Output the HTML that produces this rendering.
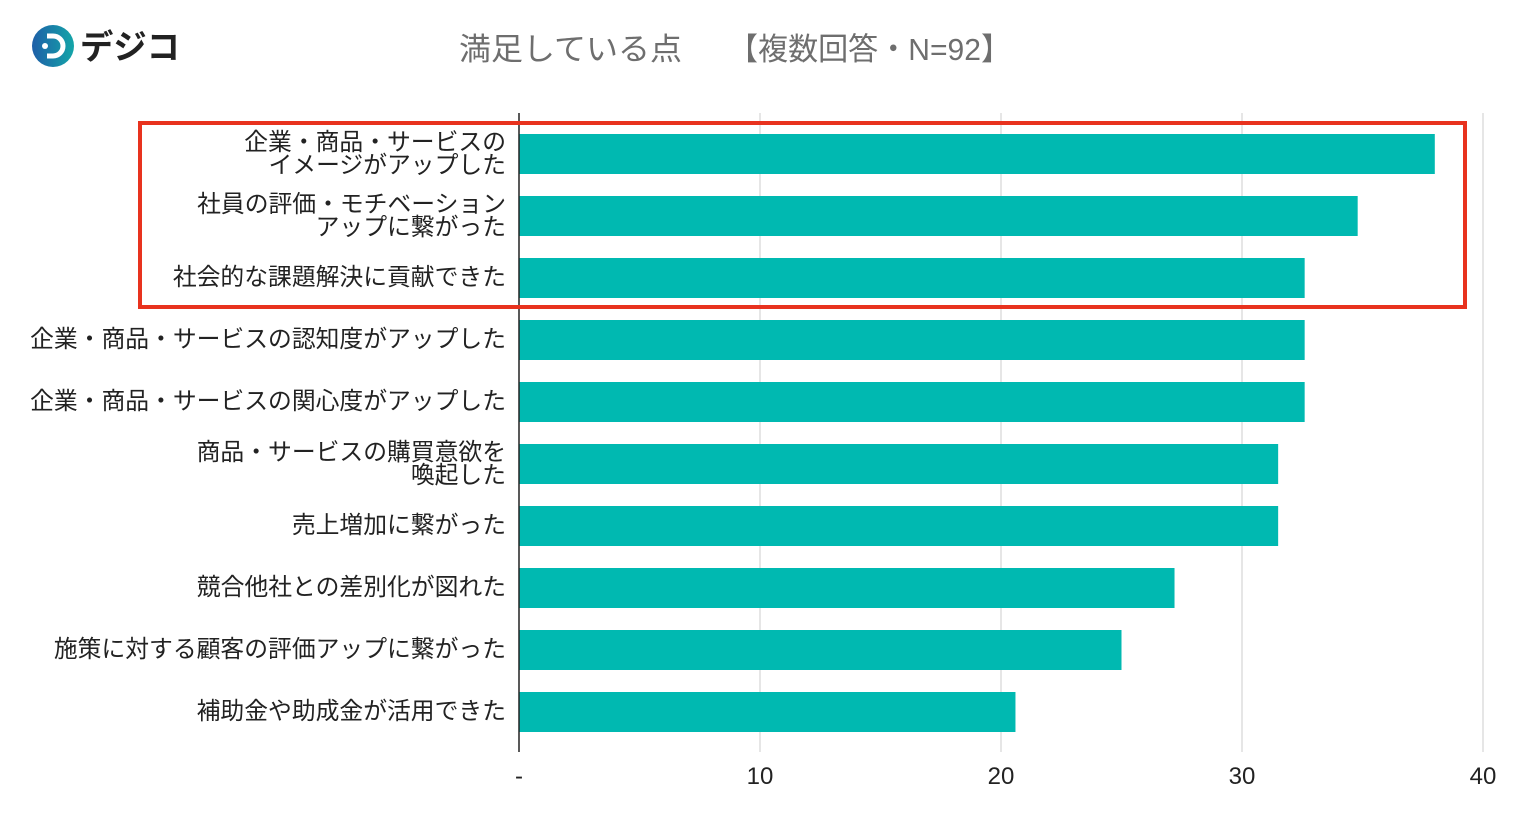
<!DOCTYPE html>
<html><head><meta charset="utf-8">
<style>
body{margin:0;width:1536px;height:832px;background:#fff;overflow:hidden;font-family:"Liberation Sans","Noto Sans CJK JP",sans-serif;}
svg{display:block}
</style></head><body>
<svg width="1536" height="832">
<defs><linearGradient id="lg" x1="0" x2="1"><stop offset="0" stop-color="#1e5fa8"/><stop offset="1" stop-color="#14a5a8"/></linearGradient></defs>
<g>
<circle cx="53" cy="46" r="21" fill="url(#lg)"/>
<path d="M47 36 h6 a10 10 0 0 1 0 20 h-6" fill="none" stroke="#fff" stroke-width="5"/>
<circle cx="45" cy="46" r="3" fill="#fff"/>
<text x="80" y="59" font-size="34" font-weight="bold" fill="#222" textLength="100" lengthAdjust="spacingAndGlyphs">デジコ</text>
</g>
<g>
<text x="459" y="60" font-size="31" fill="#6e6e6e" textLength="223" lengthAdjust="spacingAndGlyphs">満足している点</text>
<text x="728" y="60" font-size="31" fill="#6e6e6e" textLength="283" lengthAdjust="spacingAndGlyphs">【複数回答・N=92】</text>
</g>
<g id="grid"></g>
<g id="bars"></g>
<g id="labels"></g>
<g id="ticks"></g>
<line x1="519" y1="113" x2="519" y2="752" stroke="#222" stroke-width="1.5"/>
<rect x="140" y="123" width="1325" height="184" fill="none" stroke="#e8321e" stroke-width="4"/>
</svg>
<script>
const categories=[["企業・商品・サービスの","イメージがアップした"],["社員の評価・モチベーション","アップに繋がった"],["社会的な課題解決に貢献できた"],["企業・商品・サービスの認知度がアップした"],["企業・商品・サービスの関心度がアップした"],["商品・サービスの購買意欲を","喚起した"],["売上増加に繋がった"],["競合他社との差別化が図れた"],["施策に対する顧客の評価アップに繋がった"],["補助金や助成金が活用できた"]];
const values=[38,34.8,32.6,32.6,32.6,31.5,31.5,27.2,25,20.6];
const tickValues=[0,10,20,30,40];
const tickLabels=["-","10","20","30","40"];
const NS="http://www.w3.org/2000/svg";
const x=v=>519+v*24.1;
const y=i=>154+i*62;
function mk(t,a,p){const e=document.createElementNS(NS,t);for(const k in a)e.setAttribute(k,a[k]);document.getElementById(p).appendChild(e);return e;}
tickValues.forEach((v,i)=>{
 if(v>0){const l=mk('line',{x1:x(v),x2:x(v),y1:113,y2:752,stroke:'#ccc','stroke-width':1},'grid');
 
 }
 const t=mk('text',{x:x(v),y:784,'text-anchor':'middle','font-size':24,fill:'#222'},'ticks');
 t.textContent=tickLabels[i];
 
 
});
values.forEach((v,i)=>{
 const r=mk('rect',{x:519,y:y(i)-20,width:x(v)-519,height:40,fill:'#00b9b1'},'bars');
 
 
 const lines=categories[i];
 const t=mk('text',{'text-anchor':'end','font-size':23.8,fill:'#222'},'labels');
 
 
 lines.forEach((s,j)=>{const ts=document.createElementNS(NS,'tspan');ts.setAttribute('x',506);
  ts.setAttribute('y',y(i)+8+(lines.length>1?(j===0?-12:11):-1));ts.textContent=s;t.appendChild(ts);});
});
</script>
</body></html>
